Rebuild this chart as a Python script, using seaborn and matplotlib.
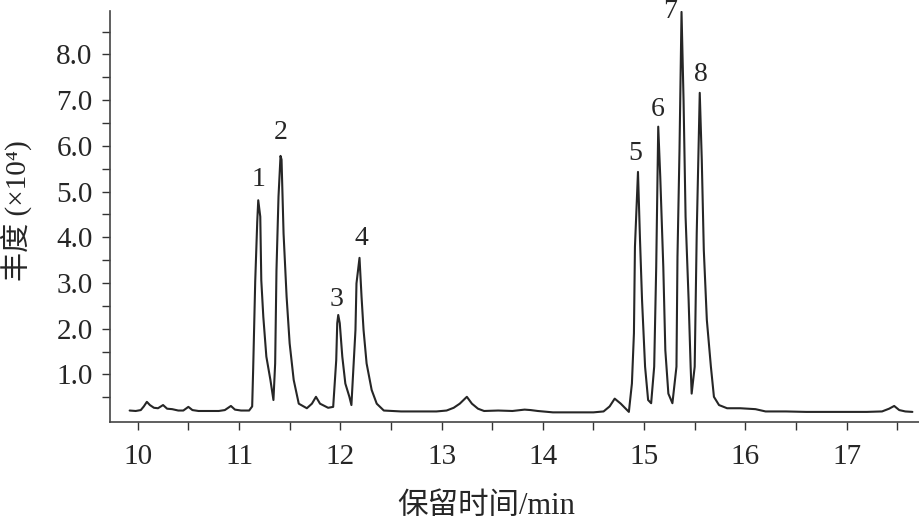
import matplotlib
matplotlib.use("Agg")
import matplotlib.pyplot as plt
import seaborn as sns
import numpy as np
import pandas as pd

# ---- data ----
retention_time = [
    9.92, 9.98, 10.03, 10.06, 10.09, 10.12, 10.16, 10.20, 10.25, 10.29, 10.34, 10.40,
    10.45, 10.50, 10.54, 10.60, 10.70, 10.80, 10.86, 10.92, 10.96, 11.02, 11.10, 11.13,
    11.14, 11.16, 11.18, 11.19, 11.21, 11.22, 11.24, 11.27, 11.31, 11.34,
    11.357, 11.37, 11.39, 11.41, 11.42, 11.44, 11.47, 11.50, 11.54, 11.59, 11.67, 11.72,
    11.76, 11.80, 11.88, 11.93,
    11.96, 11.97, 11.98, 11.995, 12.02, 12.05, 12.09, 12.11,
    12.15, 12.16, 12.19, 12.21, 12.23, 12.26, 12.31, 12.36, 12.43,
    12.60, 12.80, 12.95, 13.05, 13.12, 13.18, 13.25, 13.30, 13.36, 13.42, 13.56, 13.70,
    13.82, 13.88, 13.95, 14.10, 14.30, 14.50, 14.60, 14.66, 14.71, 14.77, 14.85,
    14.88, 14.90, 14.91, 14.94, 14.96, 14.98, 15.01, 15.04, 15.07,
    15.10, 15.12, 15.14, 15.16, 15.19, 15.21, 15.24, 15.28,
    15.32, 15.33, 15.35, 15.37, 15.39, 15.41, 15.44, 15.46, 15.47,
    15.50, 15.52, 15.55, 15.57, 15.59, 15.62, 15.66, 15.69, 15.74, 15.82, 15.95,
    16.10, 16.20, 16.40, 16.60, 16.80, 17.00, 17.20, 17.35, 17.42, 17.47, 17.52, 17.58, 17.65,
]
abundance = [
    0.21, 0.20, 0.22, 0.30, 0.40, 0.33, 0.27, 0.26, 0.33, 0.25, 0.24, 0.21,
    0.21, 0.29, 0.22, 0.20, 0.20, 0.20, 0.22, 0.31, 0.23, 0.21, 0.21, 0.30,
    1.13, 3.03, 4.34, 4.81, 4.45, 3.06, 2.26, 1.39, 0.88, 0.44,
    1.24, 3.28, 4.89, 5.78, 5.70, 4.08, 2.70, 1.68, 0.88, 0.36, 0.26, 0.36,
    0.51, 0.36, 0.27, 0.29,
    1.31, 2.12, 2.30, 2.12, 1.39, 0.80, 0.51, 0.33,
    1.97, 2.99, 3.55, 2.70, 1.97, 1.24, 0.66, 0.36, 0.21,
    0.19, 0.19, 0.19, 0.21, 0.27, 0.36, 0.51, 0.36, 0.25, 0.20, 0.21, 0.20,
    0.23, 0.22, 0.20, 0.17, 0.17, 0.17, 0.19, 0.30, 0.47, 0.36, 0.18,
    0.80, 1.90, 3.79, 5.43, 3.94, 2.63, 1.17, 0.44, 0.37,
    1.17, 3.35, 6.42, 5.32, 3.35, 1.53, 0.58, 0.37,
    1.17, 3.57, 5.91, 8.93, 7.00, 4.45, 2.63, 1.17, 0.58,
    1.17, 4.08, 7.16, 5.69, 3.72, 2.19, 1.17, 0.51, 0.33, 0.26, 0.26,
    0.24, 0.19, 0.19, 0.18, 0.18, 0.18, 0.18, 0.19, 0.25, 0.31, 0.22, 0.19, 0.18,
]
peak_labels = ["1", "2", "3", "4", "5", "6", "7", "8"]
peak_times = [11.19, 11.41, 11.98, 12.19, 14.94, 15.14, 15.37, 15.55]

x_ticks = [10, 11, 12, 13, 14, 15, 16, 17]
x_tick_labels = ["10", "11", "12", "13", "14", "15", "16", "17"]
y_ticks = [1, 2, 3, 4, 5, 6, 7, 8]
y_tick_labels = ["1.0", "2.0", "3.0", "4.0", "5.0", "6.0", "7.0", "8.0"]
x_label = "保留时间/min"
y_label = "丰度 (×10⁴)"

# label offsets (points) relative to each apex: style only
label_offsets = [(0, 15), (0, 17), (-1, 11), (1, 14), (-2, 13), (-0.5, 12), (-8, 0), (0.5, 13)]

df = pd.DataFrame({"t": retention_time, "a": abundance})

sns.set_style("ticks")
serif = ["Liberation Serif", "DejaVu Serif"]
mixed = ["Liberation Serif", "Noto Sans CJK SC", "DejaVu Sans"]
plt.rcParams["font.family"] = mixed

fig = plt.figure(figsize=(9.2, 5.25), dpi=100)
ax = fig.add_axes([110 / 920, 103.5 / 525, 810 / 920, 410.5 / 525])

sns.lineplot(data=df, x="t", y="a", ax=ax, color="#262626", linewidth=1.5,
             sort=False, estimator=None)

ax.set_xlim(9.726, 17.725)
ax.set_ylim(-0.03, 8.95)

ax.set_xticks(x_ticks)
ax.set_xticklabels(x_tick_labels, fontfamily=serif, fontsize=21)
ax.set_xticks([v + 0.5 for v in [9.5] + x_ticks], minor=True)
ax.set_yticks(y_ticks)
ax.set_yticklabels(y_tick_labels, fontfamily=serif, fontsize=21)
ax.set_yticks([v - 0.5 for v in y_ticks] + [8.5], minor=True)

for which in ("major", "minor"):
    ax.tick_params(axis="both", which=which, direction="out", length=5.5,
                   width=1.0, color="#333333")
ax.tick_params(axis="x", which="major", pad=11)
ax.tick_params(axis="y", which="major", pad=7)

sns.despine(ax=ax, top=True, right=True)
for s in ("left", "bottom"):
    ax.spines[s].set_color("#444444")
    ax.spines[s].set_linewidth(1.2)

ax.set_xlabel(x_label, fontsize=22, family=mixed)
ax.set_ylabel(y_label, fontsize=21, family=mixed)
ax.xaxis.set_label_coords(0.465, -0.172)
ax.yaxis.set_label_coords(-0.096, 0.513)

ta = np.asarray(retention_time)
aa = np.asarray(abundance)
for lab, pt, off in zip(peak_labels, peak_times, label_offsets):
    idx = int(np.argmin(np.abs(ta - pt)))
    ax.annotate(lab, xy=(ta[idx], aa[idx]), xytext=off, textcoords="offset points",
                ha="center", va="center", fontsize=20, family=serif,
                annotation_clip=False)

fig.savefig("out.png", dpi=100)
